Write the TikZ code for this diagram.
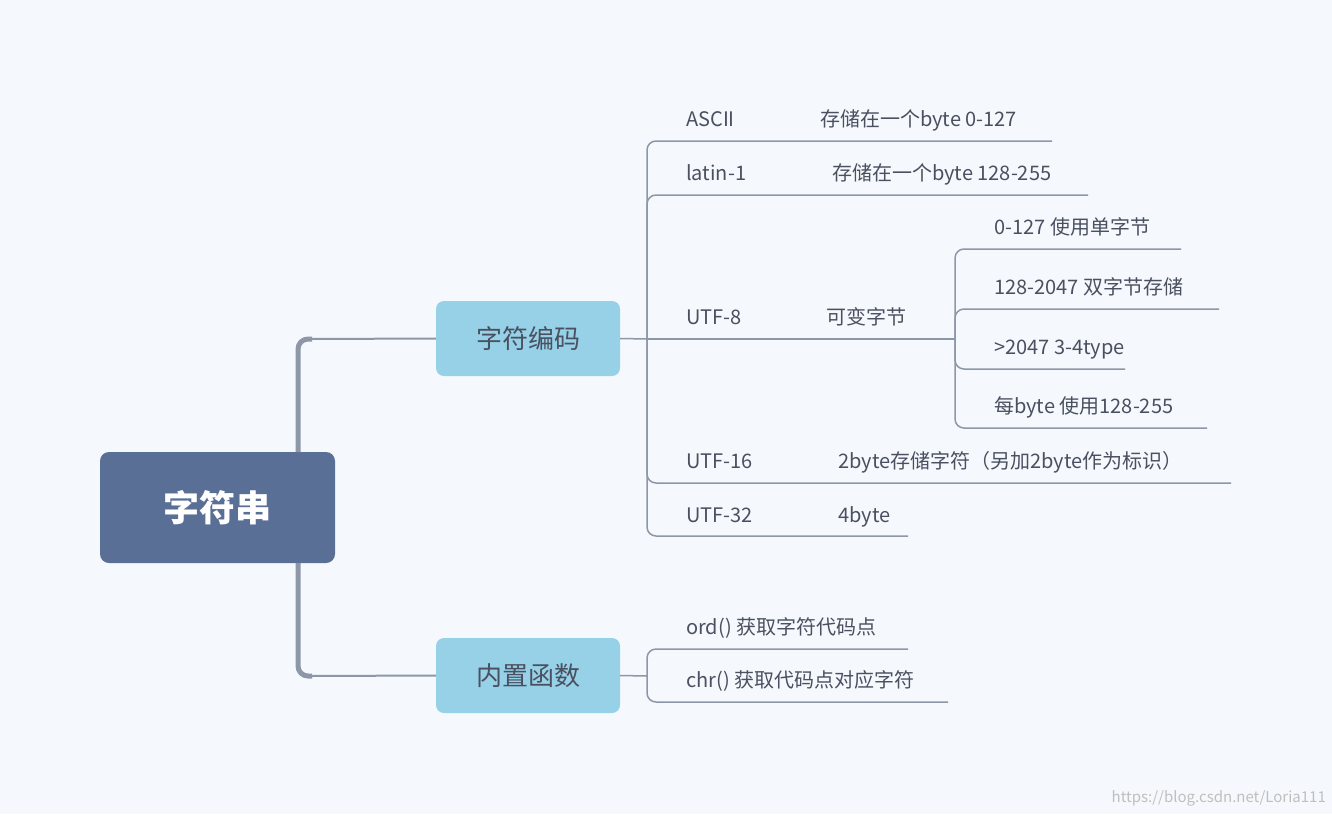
\documentclass[tikz,border=0pt]{standalone}
\usepackage{fontspec}
\setmainfont{Noto Sans CJK SC}
\begin{document}
\begin{tikzpicture}[x=1pt,y=-1pt,
  ln/.style={draw=lnc,line width=1.5pt,rounded corners=9pt},
  tx/.style={anchor=base west,text=txc,font=\fontsize{20}{24}\selectfont,inner sep=0},
  mid/.style={fill=midc,rounded corners=8pt,minimum width=184pt,minimum height=75pt,text=txc,font=\fontsize{26}{30}\selectfont}]
\definecolor{bg}{HTML}{F5F9FD}
\definecolor{lnc}{HTML}{8E97A8}
\definecolor{txc}{HTML}{4A5060}
\definecolor{midc}{HTML}{96D1E8}
\definecolor{rootc}{HTML}{5A6F96}
\fill[bg] (0,0) rectangle (1332,814);
\useasboundingbox (0,0) rectangle (1332,814);
\node[fill=rootc,rounded corners=9pt,minimum width=235pt,minimum height=111pt,text=white,font=\bfseries\fontsize{36}{40}\selectfont] (root) at (217.5,507.5) {字符串};
\node[mid] (enc) at (528,338.5) {字符编码};
\node[mid] (fun) at (528,675.5) {内置函数};
\draw[lnc,line width=5pt,rounded corners=10pt] (298,452) |- (312,339);
\draw[lnc,line width=5pt,rounded corners=10pt] (298,563) |- (312,676);
\draw[lnc,line width=2pt] (310,339) -- (enc.west);
\draw[lnc,line width=2pt] (310,676) -- (fun.west);
% encoding branch
\coordinate (e0) at (647,339);
\draw[ln] (enc.east) -- (e0);
\node[tx] (a1) at (686,126) {ASCII}; \node[tx] (a2) at (820,126) {存储在一个byte 0-127};
\node[tx] (b1) at (686,180) {latin-1}; \node[tx] (b2) at (832,180) {存储在一个byte 128-255};
\node[tx] (c1) at (686,324) {UTF-8}; \node[tx] (c2) at (826,324) {可变字节};
\node[tx] (d1) at (686,468) {UTF-16}; \node[tx] (d2) at (838,468) {2byte存储字符（另加2byte作为标识）};
\node[tx] (f1) at (686,522) {UTF-32}; \node[tx] (f2) at (838,522) {4byte};
\coordinate (ea) at (1052,141); \coordinate (eb) at (1088,195);
\coordinate (ec) at (955,339); \coordinate (ed) at (1231,483); \coordinate (ef) at (908,536);
\foreach \t in {ea,eb,ed,ef} \draw[ln] (e0) |- (\t);
\draw[ln] (e0) -- (ec);
% utf-8 subs
\node[tx] (s1) at (994,234) {0-127 使用单字节};
\node[tx] (s2) at (994,294) {128-2047 双字节存储};
\node[tx] (s3) at (994,354) {>2047 3-4type};
\node[tx] (s4) at (994,413) {每byte 使用128-255};
\coordinate (u1) at (1181,249); \coordinate (u2) at (1219,309);
\coordinate (u3) at (1125,369); \coordinate (u4) at (1207,428);
\foreach \t in {u1,u2,u3,u4} \draw[ln] (ec) |- (\t);
% functions
\coordinate (g0) at (647,676);
\draw[ln] (fun.east) -- (g0);
\node[tx] (h1) at (686,634) {ord() 获取字符代码点};
\node[tx] (h2) at (686,687) {chr() 获取代码点对应字符};
\coordinate (v1) at (908,649); \coordinate (v2) at (948,702);
\foreach \t in {v1,v2} \draw[ln] (g0) |- (\t);
\node[anchor=base east,text=black!25,font=\fontsize{15}{18}\selectfont,inner sep=0] (wm) at (1326,802) {https://blog.csdn.net/Loria111};
\end{tikzpicture}
\end{document}
